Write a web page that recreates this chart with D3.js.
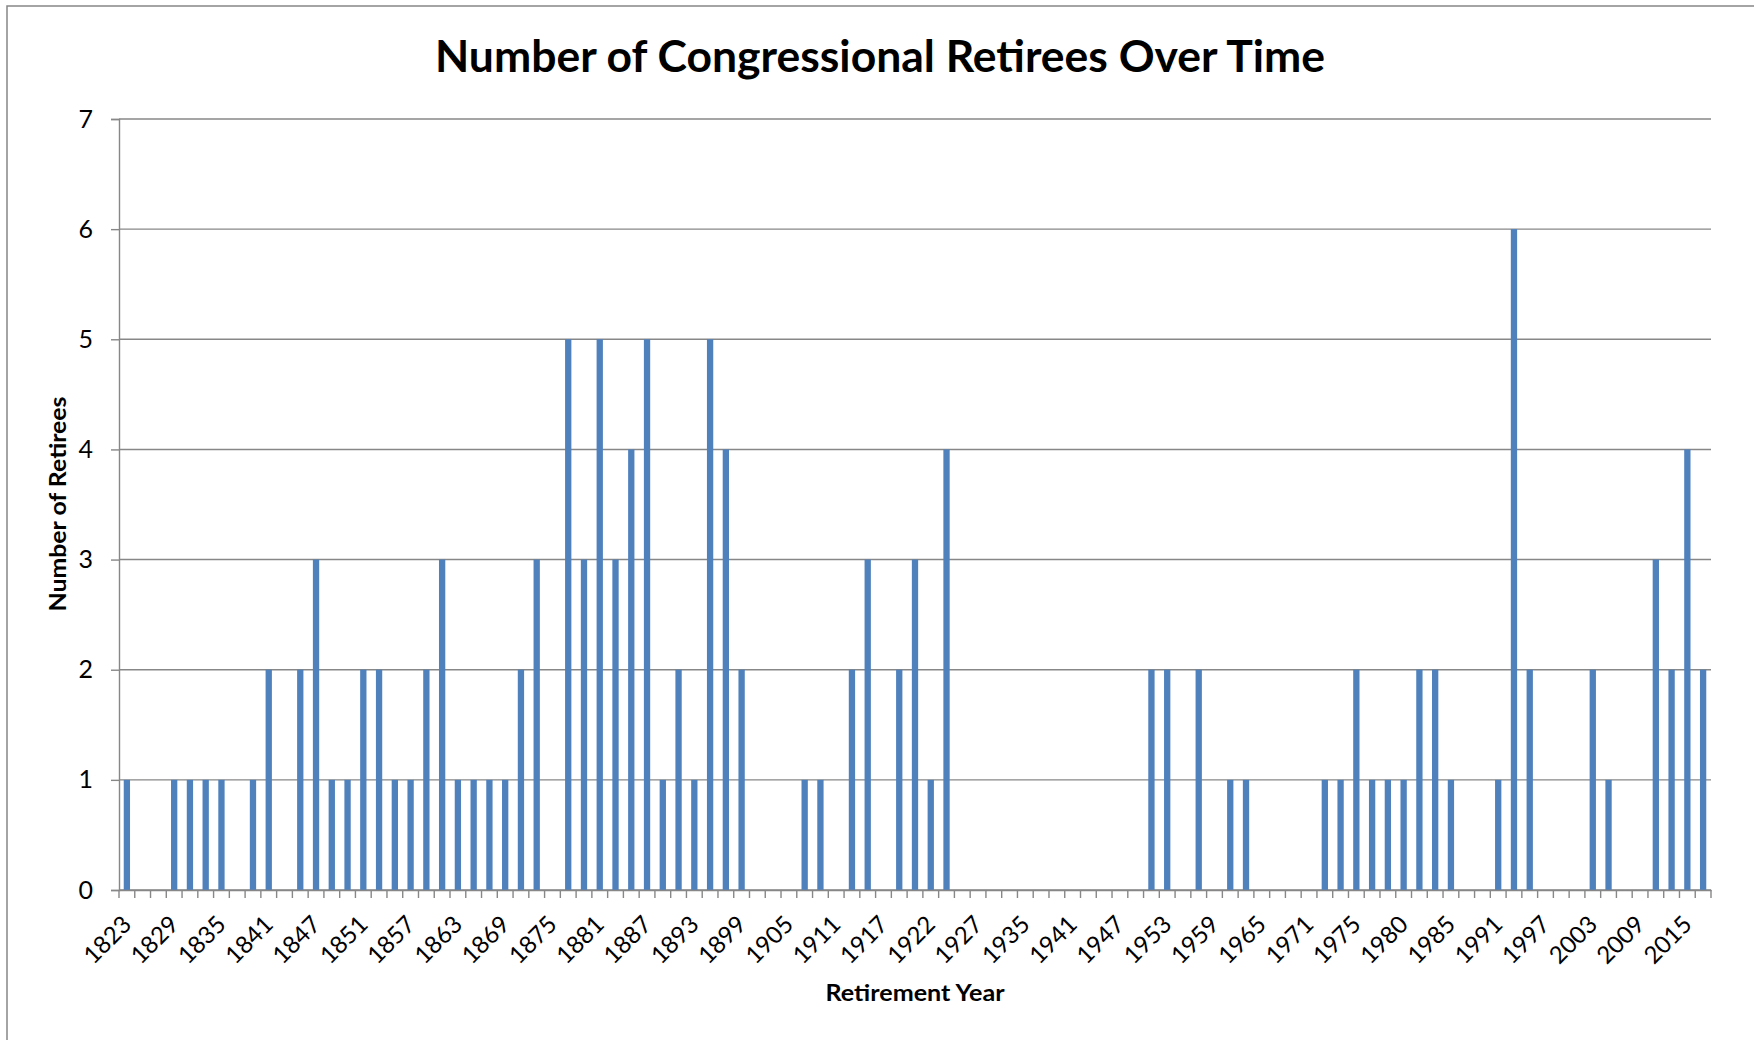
<!DOCTYPE html>
<html>
<head>
<meta charset="utf-8">
<script src="https://cdn.jsdelivr.net/npm/d3@7"></script>
<style>
  html, body { margin: 0; padding: 0; background: #fff; }
  svg { display: block; }
  text { font-family: Lato, "Open Sans", sans-serif; fill: #000; }
</style>
</head>
<body>
<svg id="chart" width="1754" height="1040"></svg>
<script>
// ---- data ----
const years = [
  "1823","1825","1827","1829","1831","1833","1835","1837","1839","1841",
  "1843","1845","1847","1849","1850","1851","1853","1855","1857","1859",
  "1861","1863","1865","1867","1869","1871","1873","1875","1877","1879",
  "1881","1883","1885","1887","1889","1891","1893","1895","1897","1899",
  "1901","1903","1905","1907","1909","1911","1913","1915","1917","1919",
  "1921","1922","1923","1925","1927","1929","1931","1935","1937","1939",
  "1941","1943","1945","1947","1949","1951","1953","1955","1957","1959",
  "1961","1963","1965","1967","1969","1971","1972","1973","1975","1977",
  "1979","1980","1981","1983","1985","1987","1989","1991","1993","1995",
  "1997","1999","2001","2003","2005","2007","2009","2011","2013","2015",
  "2017"
];
const retirees = [
  1,0,0,1,1,1,1,0,1,2,
  0,2,3,1,1,2,2,1,1,2,
  3,1,1,1,1,2,3,0,5,3,
  5,3,4,5,1,2,1,5,4,2,
  0,0,0,1,1,0,2,3,0,2,
  3,1,4,0,0,0,0,0,0,0,
  0,0,0,0,0,2,2,0,2,0,
  1,1,0,0,0,0,1,1,2,1,
  1,1,2,2,1,0,0,1,6,2,
  0,0,0,2,1,0,0,3,2,4,
  2
];
const yTickValues = [0,1,2,3,4,5,6,7];
const xTickLabels = years.filter((d, i) => i % 3 === 0);
const titleText = "Number of Congressional Retirees Over Time";
const xTitle = "Retirement Year";
const yTitle = "Number of Retirees";

// ---- layout ----
const svg = d3.select("#chart");
const plot = { left: 119, right: 1711, top: 119, bottom: 890 };
const gridColor = "#878787";
const barColor = "#4F81BD";

// outer chart border (cropped at right/bottom)
svg.append("rect")
  .attr("x", 7).attr("y", 6).attr("width", 1800).attr("height", 1100)
  .attr("fill", "none").attr("stroke", gridColor).attr("stroke-width", 1.5);

const x = d3.scaleBand().domain(years).range([plot.left, plot.right]).padding(0);
const y = d3.scaleLinear().domain([0, 7]).range([plot.bottom, plot.top]);

// gridlines
svg.append("g").selectAll("line").data(yTickValues).join("line")
  .attr("x1", plot.left).attr("x2", plot.right)
  .attr("y1", d => y(d)).attr("y2", d => y(d))
  .attr("stroke", gridColor).attr("stroke-width", 1.4);

// bars
const barW = x.bandwidth() * 0.4;
svg.append("g").selectAll("rect").data(years.map((d, i) => ({ year: d, v: retirees[i] })))
  .join("rect")
  .attr("x", d => x(d.year) + (x.bandwidth() - barW) / 2)
  .attr("y", d => y(d.v))
  .attr("width", barW)
  .attr("height", d => y(0) - y(d.v))
  .attr("fill", barColor);

// y axis
const yAxis = svg.append("g")
  .attr("transform", `translate(${plot.left},0)`)
  .call(d3.axisLeft(y).tickValues(yTickValues).tickFormat(d3.format("d")).tickSize(8).tickPadding(18));
yAxis.select(".domain").attr("stroke", gridColor).attr("stroke-width", 1.4);
yAxis.selectAll(".tick line").attr("stroke", gridColor).attr("stroke-width", 1.4);
yAxis.selectAll(".tick text").attr("font-size", 25).attr("font-family", "Lato, sans-serif").attr("fill", "#000");

// x axis line + labels
const xAxis = svg.append("g")
  .attr("transform", `translate(0,${plot.bottom})`)
  .call(d3.axisBottom(x).tickValues(xTickLabels).tickSize(0).tickSizeOuter(0));
xAxis.select(".domain").attr("stroke", gridColor).attr("stroke-width", 1.4);
xAxis.selectAll(".tick text")
  .attr("font-size", 24).attr("font-family", "Lato, sans-serif").attr("fill", "#000")
  .attr("text-anchor", "end")
  .attr("x", 0).attr("y", 0).attr("dy", "0.35em")
  .attr("transform", "translate(0,30) rotate(-45)");

// x tick marks at category boundaries
const bounds = years.map(d => x(d)).concat([x(years[years.length - 1]) + x.bandwidth()]);
svg.append("g").selectAll("line").data(bounds).join("line")
  .attr("x1", d => d).attr("x2", d => d)
  .attr("y1", plot.bottom).attr("y2", plot.bottom + 8)
  .attr("stroke", gridColor).attr("stroke-width", 1.4);

// titles
function fitText(sel, target) {
  sel.attr("textLength", target).attr("lengthAdjust", "spacingAndGlyphs");
}
svg.append("text")
  .attr("x", 880).attr("y", 72)
  .attr("text-anchor", "middle")
  .attr("font-size", 44).attr("font-weight", "bold")
  .text(titleText)
  .call(fitText, 890);

svg.append("text")
  .attr("x", 915).attr("y", 1001)
  .attr("text-anchor", "middle")
  .attr("font-size", 23).attr("font-weight", "bold")
  .text(xTitle)
  .call(fitText, 179);

svg.append("text")
  .attr("transform", "translate(66,504) rotate(-90)")
  .attr("text-anchor", "middle")
  .attr("font-size", 23).attr("font-weight", "bold")
  .text(yTitle)
  .call(fitText, 215);
</script>
</body>
</html>
